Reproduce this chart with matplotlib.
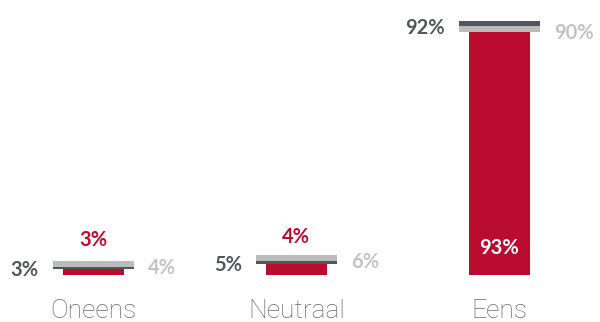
import matplotlib
matplotlib.use("Agg")
import matplotlib.pyplot as plt
import numpy as np

# Survey results per answer category (percent)
categories = ["Oneens", "Neutraal", "Eens"]
current = [3, 4, 93]        # red columns
reference_a = [3, 5, 92]    # dark grey markers (labels on the left)
reference_b = [4, 6, 90]    # light grey markers (labels on the right)

RED = "#ba0c2f"
DARK = "#54575a"
LIGHT = "#bbbcbc"
LIGHT_TXT = "#c3c3c3"
CAT_TXT = "#6a6b6e"

fig = plt.figure(figsize=(6.0, 3.22), dpi=100)
ax = fig.add_axes([0, 0.1475, 1, 0.8463])
ax.set_xlim(-0.46, 2.495)
ax.set_ylim(0, 100)
ax.axis("off")

x = np.arange(len(categories))
marker_h = 2.2

ax.bar(x, current, width=0.30, color=RED, zorder=1)
ax.bar(x, [marker_h] * 3, bottom=np.array(reference_a) - marker_h / 2,
       width=0.40, color=DARK, zorder=2)
ax.bar(x, [marker_h] * 3, bottom=np.array(reference_b) - marker_h / 2,
       width=0.40, color=LIGHT, zorder=3)

lab_font = dict(family=["Lato", "DejaVu Sans"], fontsize=14.5, fontweight="bold")

for xi, v, a, b in zip(x, current, reference_a, reference_b):
    if v > 50:
        ax.annotate(f"{v}%", (xi, 0), xytext=(0, 19), textcoords="offset points",
                    ha="center", va="center", color="white", **lab_font)
    else:
        ax.annotate(f"{v}%", (xi, v), xytext=(0, 12), textcoords="offset points",
                    ha="center", va="bottom", color=RED, **lab_font)
    ax.annotate(f"{a}%", (xi - 0.20, a), xytext=(-10, -3), textcoords="offset points",
                ha="right", va="center", color=DARK, **lab_font)
    ax.annotate(f"{b}%", (xi + 0.20, b), xytext=(10, -3), textcoords="offset points",
                ha="left", va="center", color=LIGHT_TXT, **lab_font)

for xi, name in zip(x, categories):
    ax.annotate(name, (xi, 0), xytext=(0, -31), textcoords="offset points",
                ha="center", va="baseline", color=CAT_TXT,
                family=["Roboto", "DejaVu Sans"], fontsize=19, fontweight="light")

fig.savefig("out.png", dpi=100)
